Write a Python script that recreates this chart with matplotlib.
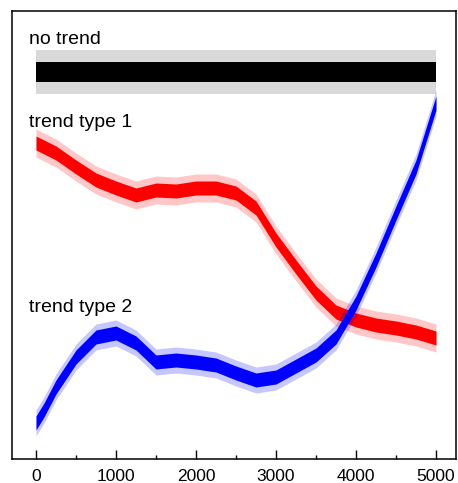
import matplotlib.pyplot as plt
from matplotlib.ticker import MultipleLocator

plt.rcParams['font.family'] = ['Liberation Sans', 'DejaVu Sans']

# sample index where the curve levels were read
steps = [0, 250, 500, 750, 1000, 1250, 1500, 1750, 2000, 2250, 2500,
         2750, 3000, 3250, 3500, 3750, 4000, 4250, 4500, 4750, 5000]

# flat signal, no trend
flat_steps = [0, 5000]
flat_level = [387, 387]
flat_core = 10
flat_spike = 22

# trend type 1 (red)
trend1_level = [316, 306, 292, 279, 271, 264, 269, 268, 271, 271, 266,
                251, 219, 192, 166, 147, 139, 134, 131, 127, 121]
trend1_core = 7
trend1_spike = 14

# trend type 2 (blue)
trend2_steps = [0, 100, 250, 500, 750, 1000, 1250, 1500, 1750, 2000, 2250,
                2500, 2750, 3000, 3250, 3500, 3750, 4000, 4250, 4500, 4750, 5000]
trend2_level = [36, 49, 72, 102, 122, 126, 116, 97, 99, 97, 94,
                86, 79, 82, 93, 104, 122, 156, 199, 246, 292, 356]
trend2_core = 7
trend2_spike = 13

labels = ['no trend', 'trend type 1', 'trend type 2']
label_y = [415, 332, 147]


def band(ax, x, y, core, spike, color, halo):
    # noisy trace shown as a dense band: faint spikes, solid core
    lo_s = [v - spike for v in y]
    hi_s = [v + spike for v in y]
    lo_c = [v - core for v in y]
    hi_c = [v + core for v in y]
    ax.fill_between(x, lo_s, hi_s, color=color, alpha=halo, lw=0)
    ax.fill_between(x, lo_c, hi_c, color=color, lw=0)


fig = plt.figure(figsize=(4.58, 4.83), dpi=100)
ax = fig.add_axes([12 / 458, 24 / 483, 444 / 458, 448 / 483])

band(ax, flat_steps, flat_level, flat_core, flat_spike, 'black', 0.15)
band(ax, steps, trend1_level, trend1_core, trend1_spike, '#ff0000', 0.22)
band(ax, trend2_steps, trend2_level, trend2_core, trend2_spike, '#0000ff', 0.22)

for txt, y in zip(labels, label_y):
    ax.text(-90, y, txt, fontsize=14, va='baseline', ha='left')

ax.set_xlim(-300, 5250)
ax.set_ylim(0, 448)
ax.xaxis.set_major_locator(MultipleLocator(1000))
ax.xaxis.set_minor_locator(MultipleLocator(500))
ax.tick_params(axis='x', which='major', direction='in', length=6.5, width=1,
               labelsize=12.5, pad=7, top=False)
ax.tick_params(axis='x', which='minor', direction='in', length=3, width=1, top=False)
ax.set_yticks([])
for s in ax.spines.values():
    s.set_linewidth(1.1)

fig.savefig('out.png', dpi=100)
